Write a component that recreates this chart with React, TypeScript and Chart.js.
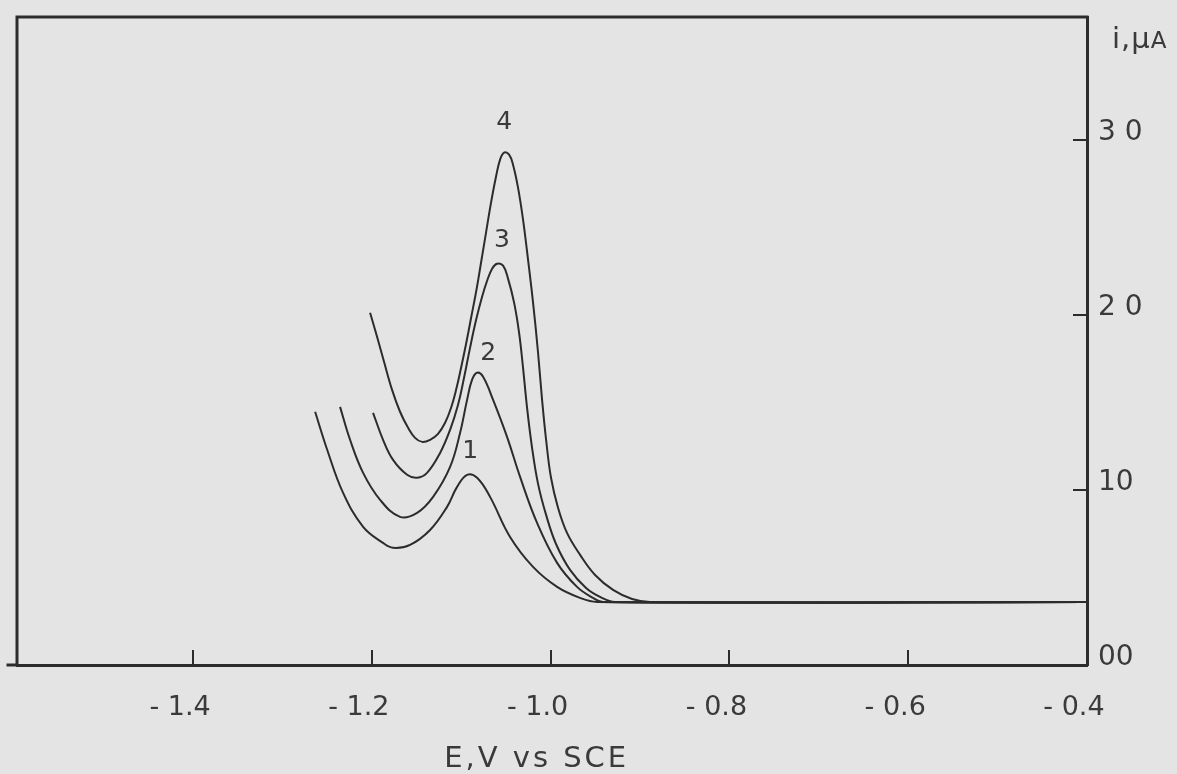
import { useEffect, useRef } from "react";
import { Chart, registerables } from "chart.js";

Chart.register(...registerables);

// Polarograms 1–4: potential (V vs SCE) and current (µA)
const potentials1 = [-1.2635, -1.25, -1.2322, -1.2098, -1.1875, -1.1763, -1.1573, -1.1349, -1.1159, -1.1047, -1.0935, -1.0823, -1.0678, -1.0454, -1.0197, -0.9928, -0.9671, -0.9481, -0.4];
const currents1 = [14.46, 12.29, 9.83, 7.89, 6.97, 6.69, 6.86, 7.71, 9.03, 10.17, 10.86, 10.69, 9.6, 7.31, 5.6, 4.46, 3.83, 3.6, 3.6];

const potentials2 = [-1.2356, -1.2244, -1.2098, -1.1908, -1.1685, -1.1494, -1.1315, -1.1125, -1.1013, -1.0935, -1.0879, -1.0823, -1.0756, -1.0644, -1.0488, -1.0342, -1.0152, -0.9928, -0.9705, -0.9526, -0.9414, -0.4];
const currents2 = [14.74, 12.86, 10.97, 9.43, 8.46, 8.69, 9.6, 11.31, 13.26, 15.14, 16.29, 16.69, 16.46, 15.14, 13.03, 10.74, 8.11, 5.83, 4.46, 3.83, 3.6, 3.6];

const potentials3 = [-1.1987, -1.1875, -1.1763, -1.1606, -1.1494, -1.1383, -1.1237, -1.1125, -1.1036, -1.0969, -1.0902, -1.0834, -1.0767, -1.0711, -1.0655, -1.06, -1.0532, -1.0477, -1.0409, -1.0353, -1.0309, -1.0264, -1.0208, -1.0141, -1.0051, -0.994, -0.9783, -0.9604, -0.9447, -0.928, -0.4];
const currents3 = [14.4, 12.86, 11.71, 10.86, 10.69, 10.97, 12.11, 13.43, 14.86, 16.4, 18.11, 19.71, 21.03, 21.94, 22.63, 22.91, 22.8, 22.06, 20.69, 18.97, 16.97, 14.69, 12.4, 10.34, 8.57, 6.91, 5.43, 4.4, 3.89, 3.6, 3.6];

const potentials4 = [-1.202, -1.1942, -1.1864, -1.1774, -1.1685, -1.1595, -1.1517, -1.1438, -1.1349, -1.126, -1.1181, -1.1114, -1.1058, -1.1002, -1.0946, -1.089, -1.0834, -1.0779, -1.0723, -1.0667, -1.0611, -1.0566, -1.0521, -1.0465, -1.0421, -1.0365, -1.0309, -1.0253, -1.0197, -1.0141, -1.0096, -1.0051, -0.9996, -0.9917, -0.9817, -0.9671, -0.9503, -0.9302, -0.9089, -0.8888, -0.4];
const currents4 = [20.11, 18.74, 17.31, 15.71, 14.46, 13.54, 12.97, 12.74, 12.86, 13.2, 13.83, 14.69, 15.71, 16.97, 18.34, 19.83, 21.31, 22.97, 24.69, 26.4, 27.89, 28.86, 29.26, 29.14, 28.57, 27.26, 25.43, 23.14, 20.69, 17.83, 15.14, 12.86, 10.69, 8.97, 7.54, 6.29, 5.14, 4.29, 3.77, 3.6, 3.6];

const curveNames = ["1", "2", "3", "4"];

const xTickValues = [-1.4, -1.2, -1.0, -0.8, -0.6, -0.4];
const xTickLabels = ["- 1.4", "- 1.2", "- 1.0", "- 0.8", "- 0.6", "- 0.4"];
const yTickValues = [0, 10, 20, 30];
const yTickLabels = ["00", "10", "2 0", "3 0"];

const xAxisTitle = "E,V vs SCE";
const yAxisTitle = "i,\u03bc";
const yAxisUnit = "A";

const X_MIN = -1.597;
const X_MAX = -0.4;
const Y_MIN = 0;
const Y_MAX = 37;

const FONT = '"DejaVu Sans", "Liberation Sans", sans-serif';
const INK = "#2c2c2c";
const TEXT = "#3a3a3a";
const PAPER = "#e4e4e4";

// pixel nudges for the curve numbers, relative to each peak
const numberOffsets = [
  [3, -23],
  [11, -19],
  [5, -23],
  [0, -30],
];

const series = [
  [potentials1, currents1],
  [potentials2, currents2],
  [potentials3, currents3],
  [potentials4, currents4],
];

// index of the first interior local maximum (the wave peak)
function peakIndex(ys: number[]) {
  for (let j = 1; j < ys.length - 1; j++) {
    if (ys[j] > ys[j - 1] && ys[j] >= ys[j + 1]) return j;
  }
  return 0;
}

const zeroPadding = (s: any) => {
  s.paddingTop = 0;
  s.paddingBottom = 0;
  s.paddingLeft = 0;
  s.paddingRight = 0;
};

const framePlugin = {
  id: "frameAndNotes",
  afterDraw(chart: any) {
    const { ctx, chartArea, scales } = chart;
    const { left, top, right, bottom } = chartArea;
    ctx.save();

    // top and left edges of the frame, plus the short overhang of the E axis
    ctx.strokeStyle = INK;
    ctx.lineWidth = 3;
    ctx.lineCap = "square";
    ctx.beginPath();
    ctx.moveTo(right, top);
    ctx.lineTo(left, top);
    ctx.lineTo(left, bottom);
    ctx.moveTo(left - 9, bottom);
    ctx.lineTo(left, bottom);
    ctx.stroke();

    // curve numbers above the peaks
    ctx.fillStyle = TEXT;
    ctx.font = `25px ${FONT}`;
    ctx.textAlign = "center";
    ctx.textBaseline = "middle";
    series.forEach(([xs, ys], i) => {
      const k = peakIndex(ys);
      const px = scales.x.getPixelForValue(xs[k]) + numberOffsets[i][0];
      const py = scales.y.getPixelForValue(ys[k]) + numberOffsets[i][1];
      ctx.fillText(curveNames[i], px, py);
    });

    // axis titles
    ctx.font = `29px ${FONT}`;
    (ctx as any).letterSpacing = "3px";
    ctx.textAlign = "center";
    ctx.textBaseline = "alphabetic";
    ctx.fillText(xAxisTitle, scales.x.getPixelForValue(-1.0) - 14, 767);

    (ctx as any).letterSpacing = "1px";
    ctx.textAlign = "left";
    ctx.font = `29px ${FONT}`;
    const tx = right + 25;
    ctx.fillText(yAxisTitle, tx, 48);
    const w = ctx.measureText(yAxisTitle).width;
    ctx.font = `23px ${FONT}`;
    ctx.fillText(yAxisUnit, tx + w, 48);
    ctx.restore();
  },
};

export default function App() {
  const canvasRef = useRef<HTMLCanvasElement | null>(null);

  useEffect(() => {
    const canvas = canvasRef.current;
    if (!canvas) return;

    const datasets = series.map(([xs, ys], i) => ({
      label: curveNames[i],
      data: xs.map((x, j) => ({ x, y: ys[j] })),
      borderColor: INK,
      borderWidth: 2,
      pointRadius: 0,
      fill: false,
      tension: 0.4,
    }));

    const chart = new Chart(canvas, {
      type: "line",
      data: { datasets },
      options: {
        responsive: false,
        animation: false,
        devicePixelRatio: 1,
        layout: { padding: { left: 17, top: 17, right: 0, bottom: 0 } },
        plugins: {
          legend: { display: false },
          tooltip: { enabled: false },
        },
        scales: {
          x: {
            type: "linear",
            position: "bottom",
            min: X_MIN,
            max: X_MAX,
            afterBuildTicks: (s: any) => {
              s.ticks = xTickValues.map((value) => ({ value }));
            },
            afterFit: (s: any) => {
              s.height = 109;
              zeroPadding(s);
            },
            grid: {
              drawOnChartArea: false,
              drawTicks: true,
              tickLength: -15,
              color: INK,
              lineWidth: 2,
            },
            border: { display: true, color: INK, width: 3 },
            ticks: {
              autoSkip: false,
              maxRotation: 0,
              minRotation: 0,
              padding: 42,
              labelOffset: -13,
              color: TEXT,
              font: { family: FONT, size: 27 },
              callback: (_v: any, i: number) => xTickLabels[i],
            },
          },
          y: {
            type: "linear",
            position: "right",
            min: Y_MIN,
            max: Y_MAX,
            afterBuildTicks: (s: any) => {
              s.ticks = yTickValues.map((value) => ({ value }));
            },
            afterFit: (s: any) => {
              s.width = 90;
              zeroPadding(s);
            },
            grid: {
              drawOnChartArea: false,
              drawTicks: true,
              tickLength: -14,
              color: INK,
              lineWidth: 2,
            },
            border: { display: true, color: INK, width: 3 },
            ticks: {
              autoSkip: false,
              padding: 25,
              labelOffset: -7,
              color: TEXT,
              font: { family: FONT, size: 28 },
              callback: (_v: any, i: number) => yTickLabels[i],
            },
          },
        },
      },
      plugins: [framePlugin],
    });

    return () => chart.destroy();
  }, []);

  return (
    <div
      style={{
        position: "fixed",
        left: 0,
        top: 0,
        width: 1177,
        height: 774,
        background: PAPER,
      }}
    >
      <canvas ref={canvasRef} width={1177} height={774} />
    </div>
  );
}
